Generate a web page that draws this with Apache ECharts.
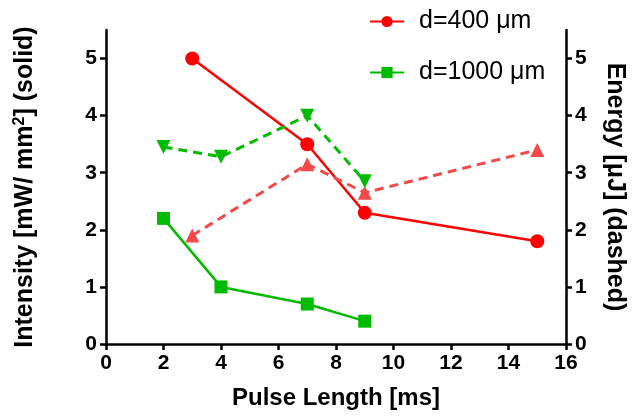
<!DOCTYPE html>
<html><head><meta charset="utf-8">
<script src="https://cdn.jsdelivr.net/npm/echarts@6/dist/echarts.min.js"></script>
<style>html,body{margin:0;padding:0;background:#fff}#c{width:635px;height:417px}</style>
</head><body><div id="c"></div>
<script>
const x400 = [3, 7, 9, 15];
const intensity400 = [5.0, 3.5, 2.3, 1.8];
const energy400 = [1.9, 3.15, 2.65, 3.4];
const x1000 = [2, 4, 7, 9];
const intensity1000 = [2.2, 1.0, 0.7, 0.4];
const energy1000 = [3.45, 3.28, 4.0, 2.85];
const xTicks = [0, 2, 4, 6, 8, 10, 12, 14, 16];
const yTicks = [0, 1, 2, 3, 4, 5];

const pair = (xs, ys) => xs.map((v, i) => [v, ys[i]]);
const F = '"Liberation Sans", Arial, sans-serif';
const RED = '#ff0000', RED2 = '#f24a4a', GREEN = '#00bb00';

const axisCommon = {
  axisLine: {show: true, onZero: false, lineStyle: {color: '#000', width: 2.5}},
  axisTick: {show: true, length: 6, lineStyle: {color: '#000', width: 2.5}},
  splitLine: {show: false},
  axisLabel: {color: '#000', fontFamily: F, fontWeight: 'bold', fontSize: 21}
};
const nameStyle = {fontFamily: F, fontWeight: 'bold', fontSize: 25, color: '#000'};
const chart = echarts.init(document.getElementById('c'));
chart.setOption({
  animation: false,
  grid: {left: 106, right: 66, top: 30, bottom: 73, containLabel: false},
  legend: {
    data: ['d=400 μm', 'd=1000 μm'],
    orient: 'vertical', left: 364, top: 4, itemWidth: 34, itemHeight: 14, itemGap: 26,
    textStyle: {fontFamily: F, fontSize: 25, color: '#000', padding: [0, 0, 0, 10]}
  },
  xAxis: Object.assign({}, axisCommon, {
    type: 'value', min: 0, max: 16, interval: 2,
    name: 'Pulse Length [ms]', nameLocation: 'middle', nameGap: 42,
    nameTextStyle: Object.assign({}, nameStyle, {fontSize: 24}),
    axisLabel: Object.assign({}, axisCommon.axisLabel, {margin: 9, formatter: v => xTicks.includes(v) ? String(v) : ''})
  }),
  yAxis: [
    Object.assign({}, axisCommon, {
      type: 'value', min: 0, max: 5.5, interval: 1, position: 'left',
      name: 'Intensity [mW/ mm{sup|2}] (solid)', nameLocation: 'middle', nameGap: 67,
      nameTextStyle: Object.assign({}, nameStyle, {
        rich: {sup: {fontFamily: F, fontWeight: 'bold', fontSize: 16, color: '#000', verticalAlign: 'top', padding: [0, 0, 11, 0]}}}),
      axisLabel: Object.assign({}, axisCommon.axisLabel, {margin: 9, showMaxLabel: false, formatter: v => yTicks.includes(v) ? String(v) : ''})
    }),
    Object.assign({}, axisCommon, {
      type: 'value', min: 0, max: 5.5, interval: 1, position: 'right',
      name: 'Energy [μJ] (dashed)', nameLocation: 'middle', nameGap: 36, nameRotate: -90,
      nameTextStyle: nameStyle,
      axisLabel: Object.assign({}, axisCommon.axisLabel, {margin: 9, showMaxLabel: false, formatter: v => yTicks.includes(v) ? String(v) : ''})
    })
  ],
  series: [
    {name: 'd=400 μm', type: 'line', yAxisIndex: 0, data: pair(x400, intensity400),
     symbol: 'circle', symbolSize: 14, color: RED, lineStyle: {width: 2.5, color: RED}, itemStyle: {color: RED}},
    {name: 'd=1000 μm', type: 'line', yAxisIndex: 0, data: pair(x1000, intensity1000),
     symbol: 'rect', symbolSize: 13, color: GREEN, lineStyle: {width: 2.5, color: GREEN}, itemStyle: {color: GREEN}},
    {name: 'E400', type: 'line', yAxisIndex: 1, data: pair(x400, energy400),
     symbol: 'triangle', symbolSize: 14, color: RED2, lineStyle: {width: 3, type: [9, 6], color: RED2}, itemStyle: {color: RED2}},
    {name: 'E1000', type: 'line', yAxisIndex: 1, data: pair(x1000, energy1000),
     symbol: 'triangle', symbolRotate: 180, symbolSize: 14, color: GREEN, lineStyle: {width: 3, type: [9, 6], color: GREEN}, itemStyle: {color: GREEN}}
  ]
});
</script></body></html>
